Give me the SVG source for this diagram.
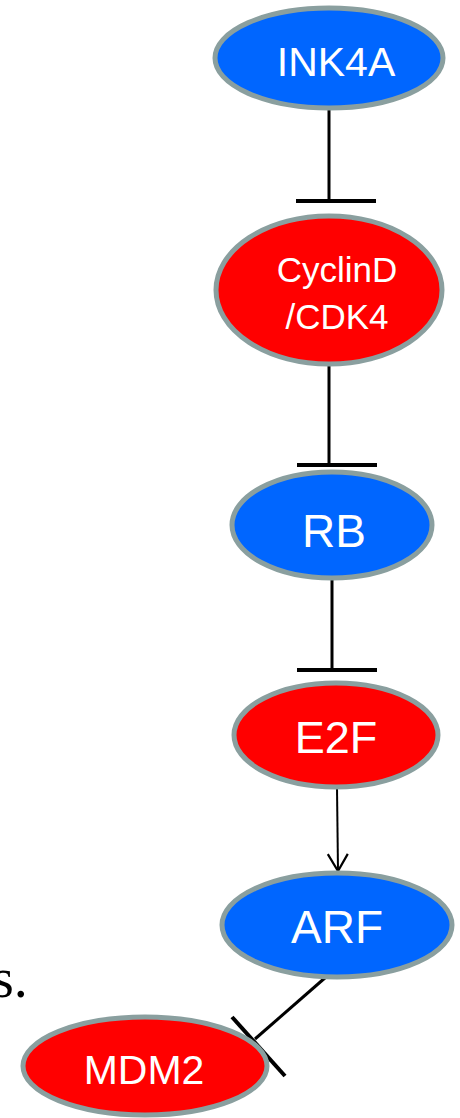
<svg xmlns="http://www.w3.org/2000/svg" width="460" height="1118" viewBox="0 0 460 1118">
  <style>
    .node ellipse { stroke: #8a9f9f; stroke-width: 5; }
    .blue { fill: #0066ff; }
    .red { fill: #ff0000; }
    .label { font-family: "Liberation Sans", Arial, sans-serif; fill: #ffffff; text-anchor: middle; }
    .edge { stroke: #000000; stroke-width: 3; fill: none; }
    .bar { stroke: #000000; stroke-width: 4; fill: none; }
  </style>
  <defs>
    <marker id="open-arrow" markerWidth="24" markerHeight="24" refX="20" refY="12" orient="auto" markerUnits="userSpaceOnUse">
      <path d="M3,2 L20,12 L3,22" fill="none" stroke="#000" stroke-width="2.2"/>
    </marker>
  </defs>
  <rect width="460" height="1118" fill="#ffffff"/>

  <!-- stray text fragment at the left -->
  <text x="-8" y="997" font-family="'Liberation Serif', 'Times New Roman', serif" font-size="56" fill="#000">s.</text>

  <g id="connectors">
    <!-- INK4A -| CyclinD/CDK4 -->
    <line class="edge" x1="329" y1="108" x2="329" y2="201"/>
    <line class="bar" x1="296" y1="201" x2="376" y2="201"/>
    <!-- CyclinD/CDK4 -| RB -->
    <line class="edge" x1="329" y1="365" x2="329" y2="465"/>
    <line class="bar" x1="297" y1="465" x2="377" y2="465"/>
    <!-- RB -| E2F -->
    <line class="edge" x1="332" y1="579" x2="332" y2="670"/>
    <line class="bar" x1="297" y1="670" x2="377" y2="670"/>
    <!-- E2F -> ARF -->
    <line x1="337" y1="788" x2="338" y2="871" stroke="#000" stroke-width="2" marker-end="url(#open-arrow)"/>
    <!-- ARF -| MDM2 -->
    <line class="edge" x1="326" y1="977" x2="255" y2="1039"/>
    <line class="bar" x1="232" y1="1017" x2="285" y2="1076"/>
  </g>

  <g id="INK4A" class="node">
    <ellipse class="blue" cx="329" cy="58" rx="114" ry="50"/>
    <text class="label" x="336" y="76" font-size="41">INK4A</text>
  </g>

  <g id="CyclinD_CDK4" class="node">
    <ellipse class="red" cx="329" cy="290" rx="113" ry="74"/>
    <text class="label" x="337" y="282" font-size="35">CyclinD</text>
    <text class="label" x="337" y="329" font-size="35">/CDK4</text>
  </g>

  <g id="RB" class="node">
    <ellipse class="blue" cx="332" cy="525" rx="100" ry="53"/>
    <text class="label" x="334" y="547" font-size="46">RB</text>
  </g>

  <g id="E2F" class="node">
    <ellipse class="red" cx="336" cy="735" rx="102" ry="52"/>
    <text class="label" x="336" y="753" font-size="45">E2F</text>
  </g>

  <g id="ARF" class="node">
    <ellipse class="blue" cx="337" cy="925" rx="115" ry="52"/>
    <text class="label" x="337" y="943" font-size="46">ARF</text>
  </g>

  <g id="MDM2" class="node">
    <ellipse class="red" cx="145" cy="1066" rx="122" ry="49"/>
    <text class="label" x="144" y="1084" font-size="41">MDM2</text>
  </g>
</svg>
